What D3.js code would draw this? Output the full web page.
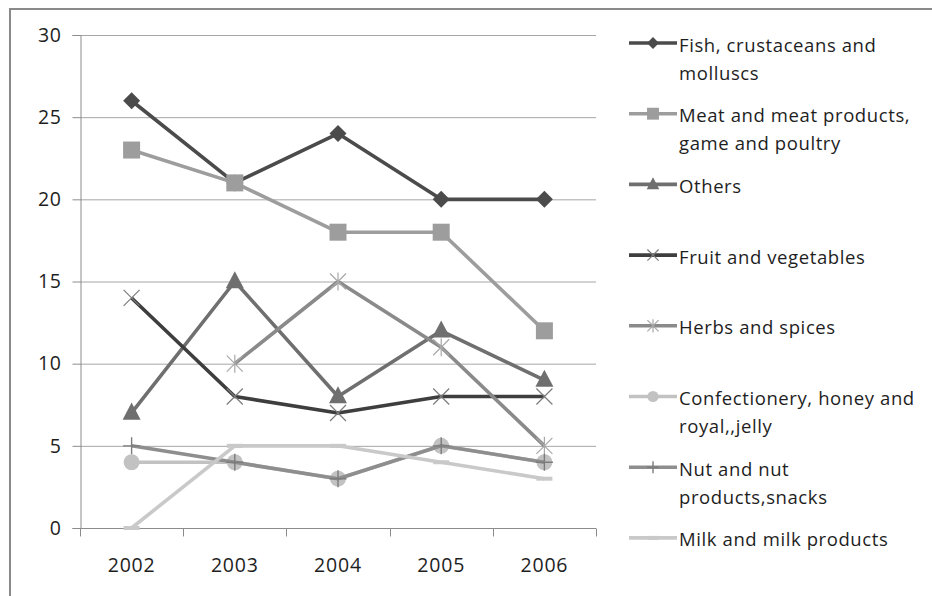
<!DOCTYPE html>
<html>
<head>
<meta charset="utf-8">
<script src="https://cdn.jsdelivr.net/npm/d3@7"></script>
<style>
  html, body { margin: 0; padding: 0; background: #fff; }
  svg { display: block; font-family: "Open Sans", Lato, sans-serif; }
</style>
</head>
<body>
<svg id="chart" width="932" height="596"></svg>
<script>
// Years on the category axis
const years = ["2002", "2003", "2004", "2005", "2006"];
const yTicks = [0, 5, 10, 15, 20, 25, 30];

// One array per product group (null = no value for that year)
const fish = [26, 21, 24, 20, 20];
const meat = [23, 21, 18, 18, 12];
const others = [7, 15, 8, 12, 9];
const fruitVeg = [14, 8, 7, 8, 8];
const herbs = [null, 10, 15, 11, 5];
const confectionery = [4, 4, 3, 5, 4];
const nuts = [5, 4, 3, 5, 4];
const milk = [0, 5, 5, 4, 3];

const seriesNames = [
  ["Fish, crustaceans and", "molluscs"],
  ["Meat and meat products,", "game and poultry"],
  ["Others"],
  ["Fruit and vegetables"],
  ["Herbs and spices"],
  ["Confectionery, honey and", "royal,,jelly"],
  ["Nut and nut", "products,snacks"],
  ["Milk and milk products"]
];

// Series table: values plus drawing style
const series = [
  { values: fish, color: "#4b4b4b", marker: "diamond", mcolor: "#4b4b4b" },
  { values: meat, color: "#9d9d9d", marker: "square", mcolor: "#9d9d9d" },
  { values: others, color: "#6f6f6f", marker: "triangle", mcolor: "#6f6f6f" },
  { values: fruitVeg, color: "#3e3e3e", marker: "x", mcolor: "#7c7c7c" },
  { values: herbs, color: "#8a8a8a", marker: "star", mcolor: "#a8a8a8" },
  { values: confectionery, color: "#c2c2c2", marker: "circle", mcolor: "#c2c2c2" },
  { values: nuts, color: "#8e8e8e", marker: "plus", mcolor: "#7c7c7c" },
  { values: milk, color: "#c9c9c9", marker: "dash", mcolor: "#c9c9c9" }
].map((s, i) => ({ ...s, name: seriesNames[i] }));

const svg = d3.select("#chart");

// Outer frame (top and left edges)
svg.append("line").attr("x1", 10).attr("x2", 932).attr("y1", 9).attr("y2", 9)
  .attr("stroke", "#8a8a8a").attr("stroke-width", 2);
svg.append("line").attr("x1", 10).attr("x2", 10).attr("y1", 8).attr("y2", 596)
  .attr("stroke", "#8a8a8a").attr("stroke-width", 2);

const plot = { left: 80, right: 596, top: 35, bottom: 528 };

const x = d3.scaleBand().domain(years).range([plot.left, plot.right]).paddingInner(0).paddingOuter(0);
const y = d3.scaleLinear().domain([0, 30]).range([plot.bottom, plot.top]);

// Horizontal gridlines
svg.append("g").selectAll("line").data(yTicks.filter(d => d > 0)).join("line")
  .attr("x1", plot.left).attr("x2", plot.right)
  .attr("y1", d => y(d) + 0.5).attr("y2", d => y(d) + 0.5)
  .attr("stroke", "#a6a6a6").attr("stroke-width", 1);

// Y axis
const yAxis = svg.append("g").attr("transform", `translate(${plot.left + 0.5},0)`)
  .call(d3.axisLeft(y).tickValues(yTicks).tickSize(8).tickPadding(11));
yAxis.select(".domain").attr("stroke", "#8c8c8c");
yAxis.selectAll(".tick line").attr("stroke", "#8c8c8c");
yAxis.selectAll(".tick text").attr("font-size", 19.5).attr("fill", "#1e1e1e")
  .attr("letter-spacing", 0.6)
  .attr("font-family", "'Open Sans', sans-serif");

// X axis: tick marks on category boundaries, labels centred in each band
const xAxis = svg.append("g").attr("transform", `translate(0,${plot.bottom + 0.5})`);
xAxis.append("line").attr("x1", plot.left).attr("x2", plot.right)
  .attr("stroke", "#8c8c8c");
const bounds = years.map(d => x(d)).concat([plot.right]);
xAxis.selectAll("line.tk").data(bounds).join("line").attr("class", "tk")
  .attr("x1", d => Math.round(d) + 0.5).attr("x2", d => Math.round(d) + 0.5)
  .attr("y1", 0).attr("y2", 8).attr("stroke", "#8c8c8c");
xAxis.selectAll("text").data(years).join("text")
  .attr("x", d => x(d) + x.bandwidth() / 2).attr("y", 43)
  .attr("text-anchor", "middle").attr("font-size", 19.5).attr("fill", "#1e1e1e")
  .attr("letter-spacing", 0.8)
  .text(d => d);

const cx = (i) => x(years[i]) + x.bandwidth() / 2;

function drawMarker(g, type, px, py, color, k) {
  const s = k || 1;
  if (type === "diamond") {
    const r = 8.5 * s;
    g.append("path").attr("d", `M${px},${py - r}L${px + r},${py}L${px},${py + r}L${px - r},${py}Z`)
      .attr("fill", color);
  } else if (type === "square") {
    const h = 8.5 * s;
    g.append("rect").attr("x", px - h).attr("y", py - h).attr("width", 2 * h).attr("height", 2 * h)
      .attr("fill", color);
  } else if (type === "triangle") {
    const h = 9 * s;
    g.append("path").attr("d", `M${px},${py - h * 1.15}L${px + h},${py + h * 0.75}L${px - h},${py + h * 0.75}Z`)
      .attr("fill", color);
  } else if (type === "circle") {
    g.append("circle").attr("cx", px).attr("cy", py).attr("r", 8 * s).attr("fill", color);
  } else if (type === "x") {
    const h = 8 * s;
    g.append("path").attr("d", `M${px - h},${py - h}L${px + h},${py + h}M${px - h},${py + h}L${px + h},${py - h}`)
      .attr("stroke", color).attr("stroke-width", 1.2).attr("fill", "none");
  } else if (type === "star") {
    const h = 8 * s;
    g.append("path").attr("d", `M${px - h},${py - h}L${px + h},${py + h}M${px - h},${py + h}L${px + h},${py - h}M${px},${py - h - 1}L${px},${py + h + 1}`)
      .attr("stroke", color).attr("stroke-width", 1.2).attr("fill", "none");
  } else if (type === "plus") {
    const h = 8.5 * s;
    g.append("path").attr("d", `M${px - h},${py}L${px + h},${py}M${px},${py - h}L${px},${py + h}`)
      .attr("stroke", color).attr("stroke-width", 1.4).attr("fill", "none");
  } else if (type === "dash") {
    g.append("rect").attr("x", px - 8 * s).attr("y", py - 2).attr("width", 16 * s).attr("height", 4)
      .attr("fill", color);
  }
}

// Series lines and markers, drawn in series order
const line = d3.line().defined(d => d.v !== null).x(d => cx(d.i)).y(d => y(d.v));
const layer = svg.append("g");
series.forEach(s => {
  const pts = s.values.map((v, i) => ({ v, i }));
  const g = layer.append("g");
  g.append("path").datum(pts).attr("d", line)
    .attr("fill", "none").attr("stroke", s.color).attr("stroke-width", 3.6)
    .attr("stroke-linejoin", "round");
  pts.filter(d => d.v !== null).forEach(d => drawMarker(g, s.marker, cx(d.i), y(d.v), s.mcolor, 1));
});

// Legend
const legend = svg.append("g");
const legY0 = 45, legStep = 70.7;
series.forEach((s, i) => {
  const ly = legY0 + i * legStep;
  const g = legend.append("g");
  g.append("line").attr("x1", 629).attr("x2", 677).attr("y1", ly - 2).attr("y2", ly - 2)
    .attr("stroke", s.color).attr("stroke-width", 3.6);
  drawMarker(g, s.marker, 653, ly - 2, s.mcolor, 0.7);
  const t = g.append("text").attr("x", 679).attr("y", ly + 6.5)
    .attr("font-size", 18.5).attr("letter-spacing", 0.6).attr("fill", "#1e1e1e");
  s.name.forEach((ln, j) => {
    t.append("tspan").attr("x", 679).attr("dy", j === 0 ? 0 : 28).text(ln);
  });
});
</script>
</body>
</html>
